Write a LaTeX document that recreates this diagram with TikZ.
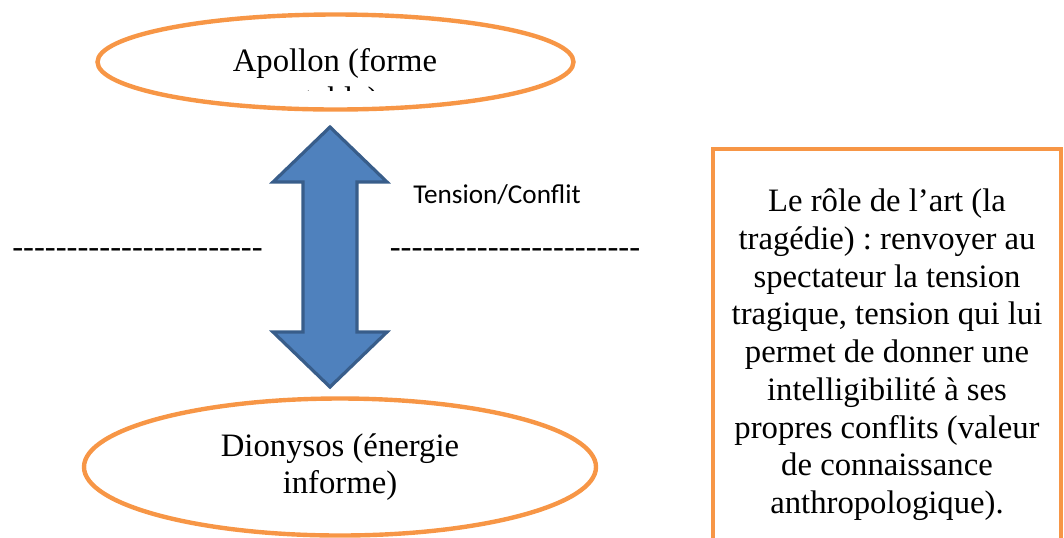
\documentclass[tikz,border=0pt]{standalone}
\usepackage{fontspec}
\setmainfont{Liberation Serif}
\newfontfamily\calibrisub{Carlito}
\usepackage{tikz}
\usetikzlibrary{shapes.geometric}
\definecolor{orangeline}{HTML}{F79646}
\definecolor{arrowfill}{HTML}{4F81BD}
\definecolor{arrowline}{HTML}{385D8A}
\newcommand{\bodyfont}{\fontsize{16.35}{18.85}\selectfont}
\frenchspacing

\begin{document}
\begin{tikzpicture}[
    x=0.5pt, y=-0.5pt,
    pole/.style={ellipse, draw=orangeline, line width=2.2pt, inner sep=0pt,
                 align=center, font=\bodyfont},
    rolebox/.style={rectangle, draw=orangeline, line width=2pt, inner sep=0pt,
                    minimum width=174pt, minimum height=205.75pt, align=center, font=\bodyfont},
    bigarrow/.style={draw=arrowline, fill=arrowfill, line width=1.6pt, line join=miter},
    dashrow/.style={inner sep=0pt, anchor=base, font=\bodyfont},
    tensiontext/.style={inner sep=0pt, anchor=base, font=\calibrisub\fontsize{13.6}{16}\selectfont}
]
\useasboundingbox (0,0) rectangle (1064,537);

\node[pole, minimum width=238pt, minimum height=47.5pt] (apollon) at (335.5,62) {};
\begin{scope}
  \clip (100,20) rectangle (570,90);
  \node[inner sep=0pt, align=center, font=\bodyfont] (apollontext) at (335,82.5) {Apollon (forme\\stable)};
\end{scope}

\node[pole, minimum width=256pt, minimum height=68.5pt] (dionysos) at (340,467)
    {Dionysos (énergie\\informe)};

\coordinate (tipup) at (330,127);
\coordinate (tipdown) at (330,387);
\draw[bigarrow] (tipup) -- ++(57,55) -- ++(-30,0) -- ++(0,150) -- ++(30,0) -- (tipdown)
    -- ++(-57,-55) -- ++(30,0) -- ++(0,-150) -- ++(-30,0) -- cycle;

\node[tensiontext] (tension) at (497,203) {Tension/Conflit};

\node[dashrow] (dashleft) at (137.5,257.4) {-{}-{}-{}-{}-{}-{}-{}-{}-{}-{}-{}-{}-{}-{}-{}-{}-{}-{}-{}-{}-{}-{}-};
\node[dashrow] (dashright) at (515,257.4) {-{}-{}-{}-{}-{}-{}-{}-{}-{}-{}-{}-{}-{}-{}-{}-{}-{}-{}-{}-{}-{}-{}-};

\node[rolebox] (role) at (887,354.75) {Le rôle de l’art (la\\
    tragédie) : renvoyer au\\
    spectateur la tension\\
    tragique, tension qui lui\\
    permet de donner une\\
    intelligibilité à ses\\
    propres conflits (valeur\\
    de connaissance\\
    anthropologique).};

\end{tikzpicture}
\end{document}
